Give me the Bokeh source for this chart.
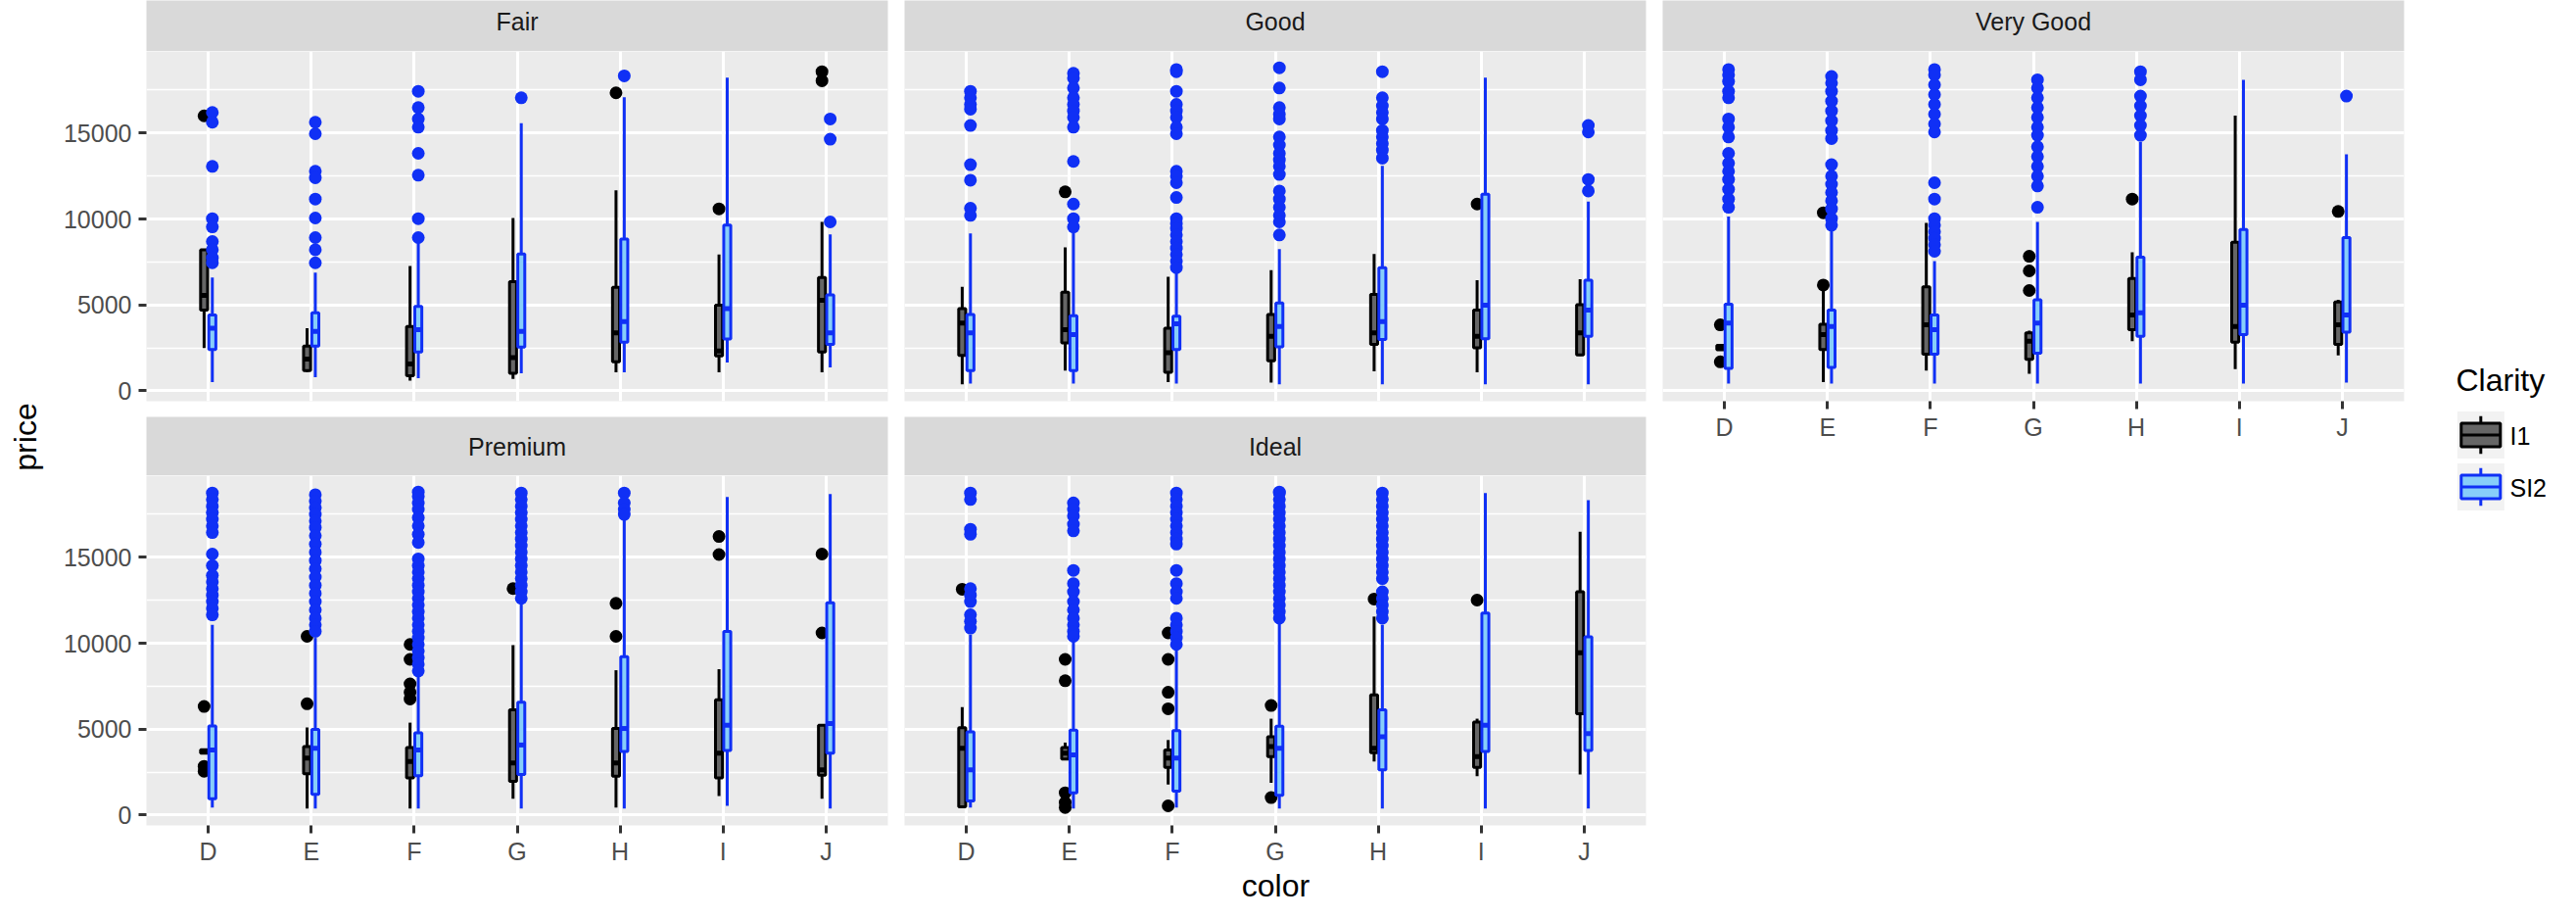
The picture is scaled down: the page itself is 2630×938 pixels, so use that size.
import math
from bokeh.plotting import figure
from bokeh.models import Range1d, FixedTicker, NumeralTickFormatter, ColumnDataSource, Grid
from bokeh.layouts import row, column
from bokeh.embed import file_html
from bokeh.resources import INLINE
from bokeh.core.properties import value

# ---------------- data ----------------
colors = ["D", "E", "F", "G", "H", "I", "J"]
cuts = ["Fair", "Good", "Very Good", "Premium", "Ideal"]
clarities = ["I1", "SI2"]

# each entry: [lower whisker, Q1, median, Q3, upper whisker] for colors D..J
fair_I1 = [[2500, 4700, 5550, 8200, 8200], [1100, 1180, 1850, 2600, 3650], [600, 890, 1560, 3750, 7260],
           [700, 1030, 1940, 6350, 10060], [1080, 1690, 3370, 6030, 11670], [1080, 2030, 2320, 4980, 7930],
           [1080, 2260, 5270, 6600, 9830]]
fair_I1_out = [[16000], [], [], [], [17340], [10590], [18570, 18040]]
fair_SI2 = [[510, 2410, 3650, 4410, 6600], [800, 2600, 3460, 4540, 6880], [740, 2260, 3560, 4920, 8970],
            [1030, 2550, 3460, 7970, 15570], [1080, 2830, 4030, 8840, 17090], [1650, 3020, 4790, 9640, 18230],
            [1370, 2700, 3370, 5590, 9110]]
fair_SI2_out = [[16200, 15630, 13060, 10020, 9540, 8690, 8210, 7740, 7450],
                [15630, 14960, 12780, 12400, 11160, 10060, 8920, 8210, 7450],
                [17430, 16480, 15820, 15340, 13820, 12550, 10020, 8920],
                [17050], [18330], [], [15820, 14640, 9830]]

good_I1 = [[380, 2070, 3940, 4790, 6060], [1180, 2790, 3560, 5740, 8350], [510, 1080, 2220, 3650, 6640],
           [480, 1750, 3180, 4450, 7020], [1140, 2700, 3370, 5610, 7970], [1080, 2510, 3180, 4700, 6440],
           [2030, 2090, 3370, 5020, 6500]]
good_I1_out = [[], [11580], [], [], [], [10870], []]
good_SI2 = [[420, 1180, 3370, 4450, 9160], [420, 1180, 3270, 4370, 9260], [420, 2410, 3900, 4350, 6980],
            [380, 2570, 3750, 5110, 8250], [380, 2990, 4030, 7170, 13100], [380, 3040, 4980, 11440, 18230],
            [380, 3180, 4700, 6440, 11010]]
good_SI2_out = [[17430, 17050, 16670, 16390, 15440, 13160, 12260, 10630, 10210],
                [18480, 18190, 17620, 17050, 16670, 16290, 15910, 15340, 13350, 10870, 10020, 9540],
                [18700, 18570, 17430, 16670, 16290, 15910, 15340, 14960, 12780, 12490, 12110, 11250, 10020,
                 9730, 9450, 9070, 8690, 8310, 7930, 7550, 7170],
                [18800, 17620, 16480, 16100, 15820, 14770, 14300, 13820, 13440, 13060, 12590, 11630, 11160,
                 10680, 10210, 9830, 9070],
                [18570, 17050, 16580, 16200, 15820, 15150, 14770, 14390, 14010, 13540],
                [], [15440, 15060, 12300, 11630]]

verygood_I1 = [[2350, 2400, 2500, 2650, 2700], [510, 2410, 3270, 3880, 5840], [1180, 2130, 3840, 6060, 9770],
               [990, 1840, 2890, 3370, 3500], [2890, 3560, 4410, 6540, 8060], [1270, 2830, 3750, 8650, 16010],
               [2070, 2700, 3840, 5170, 5300]]
verygood_I1_out = [[3840, 1690], [10360, 6160], [], [7830, 6980, 5840], [11160], [], [10440]]
verygood_SI2 = [[420, 1310, 3940, 5040, 10150], [420, 1370, 3750, 4700, 9450], [420, 2130, 3560, 4410, 7550],
                [420, 2190, 3940, 5300, 9830], [420, 3180, 4540, 7780, 14490], [420, 3270, 4980, 9390, 18100],
                [480, 3420, 4410, 8920, 13760]]
verygood_SI2_out = [[18700, 18380, 18000, 17430, 17050, 15820, 15340, 14770, 13820, 13250, 12780, 12300,
                     11730, 11160, 10680],
                    [18290, 17910, 17430, 16860, 16290, 15720, 15150, 14680, 13160, 12490, 12020, 11540,
                     11060, 10590, 10020, 9640],
                    [18700, 18380, 17810, 17240, 16670, 16100, 15530, 15060, 12110, 11160, 10020, 9640,
                     9260, 8880, 8500, 8120],
                    [18100, 17620, 17050, 16480, 15910, 15340, 14870, 14200, 13630, 13060, 12490, 11920, 10680],
                    [18570, 18100, 17150, 16580, 16010, 15440, 14870],
                    [], [17150]]

premium_I1 = [[3550, 3600, 3700, 3800, 3850], [380, 2410, 3320, 3990, 5100], [380, 2170, 3120, 3930, 5380],
              [960, 1970, 3030, 6130, 9890], [440, 2260, 3030, 5040, 8430], [1110, 2170, 3600, 6710, 8490],
              [960, 2320, 2640, 5230, 5230]]
premium_I1_out = [[6320, 2840, 2550], [10400, 6480], [9930, 9060, 7630, 7150, 6760], [13180],
                  [12320, 10400], [16210, 15160], [15190, 10600]]
premium_SI2 = [[440, 960, 3790, 5190, 11070], [380, 1210, 3890, 4980, 10310], [380, 2300, 3790, 4790, 8200],
               [380, 2360, 4080, 6570, 12420], [380, 3700, 5040, 9220, 17210], [540, 3760, 5230, 10690, 18510],
               [380, 3600, 5330, 12360, 18680]]
premium_SI2_out = [[18740, 18360, 17970, 17590, 17210, 16820, 16440, 15190, 14520, 13950, 13570, 13180,
                    12800, 12420, 12030, 11650],
                   [18640, 18260, 17880, 17490, 17110, 16730, 16250, 15770, 15290, 14810, 14330, 13850,
                    13370, 12900, 12420, 11940, 11460, 11070, 10690],
                   [18800, 18550, 18160, 17780, 17300, 16820, 16340, 15860, 14910, 14520, 14140, 13760,
                    13370, 12990, 12610, 12220, 11840, 11460, 11070, 10690, 10310, 9930, 9540, 9160, 8780, 8390],
                   [18740, 18360, 17970, 17590, 17210, 16820, 16440, 16060, 15670, 15290, 14910, 14520,
                    14140, 13760, 13370, 12990, 12610],
                   [18740, 18160, 17780, 17490],
                   [], []]

ideal_I1 = [[480, 480, 3890, 5080, 6280], [3260, 3260, 3600, 3930, 4220], [1780, 2780, 3320, 3790, 4370],
            [1880, 3410, 3990, 4560, 5610], [3120, 3640, 3890, 6990, 11550], [2260, 2780, 3410, 5420, 5610],
            [2360, 5900, 9450, 12990, 16480]]
ideal_I1_out = [[13140], [9060, 7820, 1300, 730, 440], [10600, 9060, 7150, 6190, 540], [6380, 1020],
                [12570], [12510], []]
ideal_SI2 = [[440, 820, 2640, 4850, 10500], [380, 1300, 3510, 4940, 10310], [440, 1400, 3320, 4910, 9830],
             [380, 1150, 3890, 5170, 11270], [380, 2640, 4560, 6130, 11070], [380, 3700, 5230, 11750, 18740],
             [380, 3760, 4750, 10370, 18320]]
ideal_SI2_out = [[18740, 18360, 16630, 16340, 13180, 12800, 12420, 11650, 11270, 10880],
                 [18160, 17780, 17400, 16920, 16540, 14240, 13470, 12990, 12420, 11940, 11460, 11070,
                  10690, 10400],
                 [18740, 18360, 17970, 17590, 17210, 16820, 16440, 16060, 15770, 14240, 13470, 12990,
                  12610, 11460, 11070, 10690, 10310, 9930],
                 [18800, 18740, 18360, 17970, 17590, 17210, 16820, 16440, 16060, 15670, 15290, 14910,
                  14520, 14140, 13760, 13370, 12990, 12610, 12220, 11840, 11460],
                 [18740, 18360, 17970, 17590, 17210, 16820, 16440, 16060, 15670, 15290, 14910, 14520,
                  14140, 13760, 12990, 12610, 12220, 11840, 11460],
                 [], []]

y_ticks = [0, 5000, 10000, 15000]
y_minor = [2500, 7500, 12500, 17500]
price_min, price_max = 326, 18823   # price range of the data (ggplot expands by 5%)

# ---------------- style ----------------
FONT = "Liberation Sans"
FILL = ["#666666", "#87CEFA"]
LINE = ["#000000", "#1030F5"]
DODGE = [-0.04, 0.04]
BOX_W = 0.068
FRAME_W, FRAME_H = 757, 357

pad = 0.05 * (price_max - price_min)
Y0, Y1 = price_min - pad, price_max + pad
x_ticks = list(range(1, len(colors) + 1))


def base_fig(fw, fh, bl=0, br=0, bt=0, bb=0, **kw):
    f = figure(frame_width=fw, frame_height=fh, min_border_left=bl, min_border_right=br,
               min_border_top=bt, min_border_bottom=bb, title=None, toolbar_location=None,
               output_backend="svg", **kw)
    f.border_fill_color = "white"
    f.outline_line_color = None
    return f


def style_axis(ax, standoff):
    ax.axis_line_color = None
    ax.major_tick_line_color = "#333333"
    ax.major_tick_line_width = 3
    ax.major_tick_in = 0
    ax.major_tick_out = 8
    ax.minor_tick_line_color = None
    ax.major_label_text_font = FONT
    ax.major_label_text_font_size = "25px"
    ax.major_label_text_color = "#4D4D4D"
    ax.major_label_standoff = standoff


def make_strip(label, bl, h, ty):
    s = base_fig(FRAME_W, h, bl=bl, br=8, x_range=Range1d(0, 1), y_range=Range1d(0, 1),
                 x_axis_location=None, y_axis_location=None)
    s.background_fill_color = "#D9D9D9"
    s.grid.visible = False
    s.text(x=[0.5], y=[ty], text=[label], text_align="center", text_baseline="middle",
           text_font=value(FONT), text_font_size="25px", text_color="#1A1A1A")
    return s


def make_panel(groups, show_x, show_y, bl, bb):
    p = base_fig(FRAME_W, FRAME_H, bl=bl, br=8, bb=bb,
                 x_range=Range1d(0.4, len(colors) + 0.6), y_range=Range1d(Y0, Y1),
                 x_axis_location="below" if show_x else None,
                 y_axis_location="left" if show_y else None)
    p.background_fill_color = "#EBEBEB"
    xt = FixedTicker(ticks=x_ticks)
    yt = FixedTicker(ticks=y_ticks, minor_ticks=y_minor)
    if not p.xgrid:
        p.add_layout(Grid(dimension=0, ticker=xt))
    if not p.ygrid:
        p.add_layout(Grid(dimension=1, ticker=yt))
    for g in p.xgrid:
        g.ticker = xt
        g.grid_line_color = "white"
        g.grid_line_width = 3
    for g in p.ygrid:
        g.ticker = yt
        g.grid_line_color = "white"
        g.grid_line_width = 3
        g.minor_grid_line_color = "white"
        g.minor_grid_line_width = 1.5
    if show_x:
        ax = p.xaxis[0]
        ax.ticker = xt
        ax.major_label_overrides = {i + 1: c for i, c in enumerate(colors)}
        style_axis(ax, 4)
    if show_y:
        ay = p.yaxis[0]
        ay.ticker = yt
        ay.formatter = NumeralTickFormatter(format="0")
        style_axis(ay, 7)

    for k, (stats, outs) in enumerate(groups):
        xs = [i + 1 + DODGE[k] for i in range(len(colors))]
        src = ColumnDataSource(dict(
            x=xs,
            xl=[x - BOX_W / 2 for x in xs],
            xr=[x + BOX_W / 2 for x in xs],
            low=[s[0] for s in stats], q1=[s[1] for s in stats], med=[s[2] for s in stats],
            q3=[s[3] for s in stats], high=[s[4] for s in stats]))
        ox = [xs[i] for i, lst in enumerate(outs) for _ in lst]
        oy = [v for lst in outs for v in lst]
        p.scatter(ox, oy, size=13, fill_color=LINE[k], line_color=None)
        p.segment(x0="x", y0="low", x1="x", y1="q1", source=src, line_color=LINE[k], line_width=3)
        p.segment(x0="x", y0="q3", x1="x", y1="high", source=src, line_color=LINE[k], line_width=3)
        p.vbar(x="x", width=BOX_W, bottom="q1", top="q3", source=src,
               fill_color=FILL[k], line_color=LINE[k], line_width=3)
        p.segment(x0="xl", y0="med", x1="xr", y1="med", source=src, line_color=LINE[k], line_width=5)
    return p


data = {
    "Fair": [(fair_I1, fair_I1_out), (fair_SI2, fair_SI2_out)],
    "Good": [(good_I1, good_I1_out), (good_SI2, good_SI2_out)],
    "Very Good": [(verygood_I1, verygood_I1_out), (verygood_SI2, verygood_SI2_out)],
    "Premium": [(premium_I1, premium_I1_out), (premium_SI2, premium_SI2_out)],
    "Ideal": [(ideal_I1, ideal_I1_out), (ideal_SI2, ideal_SI2_out)],
}

# column A (with y axis)
colA = column(
    make_strip(cuts[0], 89, 52, 0.587),
    make_panel(data[cuts[0]], False, True, 89, 16),
    make_strip(cuts[3], 89, 60, 0.5),
    make_panel(data[cuts[3]], True, True, 89, 43),
)
colB = column(
    make_strip(cuts[1], 9, 52, 0.587),
    make_panel(data[cuts[1]], False, False, 9, 16),
    make_strip(cuts[4], 9, 60, 0.5),
    make_panel(data[cuts[4]], True, False, 9, 43),
)
colC = column(
    make_strip(cuts[2], 9, 52, 0.587),
    make_panel(data[cuts[2]], True, False, 9, 43),
)

# x axis title
xlab = base_fig(2402, 37, x_range=Range1d(0, 2402), y_range=Range1d(0, 37),
                x_axis_location=None, y_axis_location=None)
xlab.grid.visible = False
xlab.background_fill_color = "white"
xlab.text(x=[1242], y=[18.2], text=["color"], text_align="center", text_baseline="middle",
          text_font=value(FONT), text_font_size="32px", text_color="black")

# y axis title
ylab = base_fig(60, 922, x_range=Range1d(0, 60), y_range=Range1d(0, 922),
                x_axis_location=None, y_axis_location=None)
ylab.grid.visible = False
ylab.background_fill_color = "white"
ylab.text(x=[25], y=[476.5], text=["price"], angle=math.pi / 2, text_align="center",
          text_baseline="middle", text_font=value(FONT), text_font_size="32px", text_color="black")

# legend
leg = base_fig(152, 922, x_range=Range1d(0, 152), y_range=Range1d(0, 922),
               x_axis_location=None, y_axis_location=None)
leg.grid.visible = False
leg.background_fill_color = "white"
leg.text(x=[45], y=[535], text=["Clarity"], text_align="left", text_baseline="middle",
         text_font=value(FONT), text_font_size="32px", text_color="black")
KEY = 48
key_cx = 70.3
key_cy = [478.5, 425.5]
leg.rect(x=[key_cx] * 2, y=key_cy, width=KEY, height=KEY, fill_color="#F2F2F2", line_color=None)
for k in range(2):
    cy = key_cy[k]
    leg.segment(x0=[key_cx, key_cx], y0=[cy + 0.25 * KEY, cy - 0.25 * KEY],
                x1=[key_cx, key_cx], y1=[cy + 0.4 * KEY, cy - 0.4 * KEY],
                line_color=LINE[k], line_width=3)
    leg.rect(x=[key_cx], y=[cy], width=40, height=0.5 * KEY, fill_color=FILL[k],
             line_color=LINE[k], line_width=3)
    leg.segment(x0=[key_cx - 20], y0=[cy], x1=[key_cx + 20], y1=[cy], line_color=LINE[k], line_width=3)
leg.text(x=[100, 100], y=[c - 1 for c in key_cy], text=clarities, text_align="left",
         text_baseline="middle", text_font=value(FONT), text_font_size="25px", text_color="black")

layout = row(ylab, column(row(colA, colB, colC), xlab), leg)
open("out.html", "w").write(file_html(layout, INLINE))
